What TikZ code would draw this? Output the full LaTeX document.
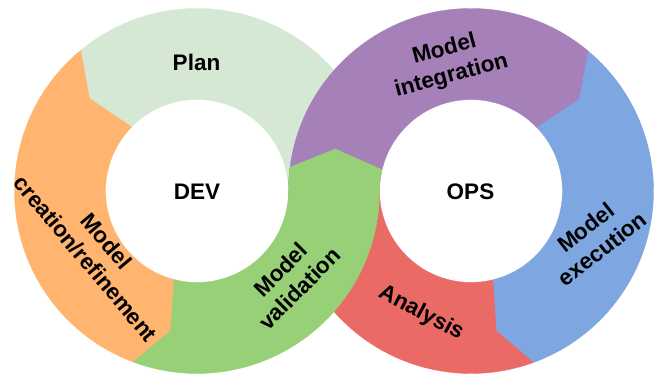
\documentclass[tikz,border=0pt]{standalone}
\usepackage{fontspec}
\setmainfont{Liberation Sans}
\usetikzlibrary{calc}
\definecolor{cplan}{HTML}{D5E8D4}
\definecolor{corange}{HTML}{FFB570}
\definecolor{cgreen}{HTML}{97D077}
\definecolor{cpurple}{HTML}{A680B8}
\definecolor{cblue}{HTML}{7EA6E0}
\definecolor{cred}{HTML}{EA6B66}
\begin{document}
\begin{tikzpicture}[x=1pt,y=1pt,
  seg/.style={fill=#1, draw=#1, line width=0.4pt, line join=round},
  lbl/.style={font=\fontsize{22.5}{27}\selectfont\bfseries, align=center, text=black, inner sep=0pt}]
\useasboundingbox (0,0) rectangle (657,374);
\coordinate (L) at (197,183);
\coordinate (R) at (471,183);
% Plan
\path[seg=cplan] ($(L)+(0:182.5pt)$) arc[start angle=0,end angle=129.6,radius=182.5pt]
  -- ($(L)+(139.3:142pt)$) -- ($(L)+(135.6:91.5pt)$)
  arc[start angle=135.6,end angle=0,radius=91.5pt] -- cycle;
% Analysis
\path[seg=cred] ($(R)+(-69.8:182.5pt)$) arc[start angle=-69.8,end angle=-180,radius=182.5pt]
  -- ($(R)+(180:91.5pt)$) arc[start angle=180,end angle=284.2,radius=91.5pt]
  -- ($(R)+(-79.5:142pt)$) -- cycle;
% Model creation/refinement
\path[seg=corange] ($(L)+(129.6:182.5pt)$) arc[start angle=129.6,end angle=249.6,radius=182.5pt]
  -- ($(L)+(259.3:142pt)$) -- ($(L)+(255.6:91.5pt)$)
  arc[start angle=255.6,end angle=135.6,radius=91.5pt]
  -- ($(L)+(139.3:142pt)$) -- cycle;
% Model execution
\path[seg=cblue] ($(R)+(50.2:182.5pt)$) arc[start angle=50.2,end angle=-69.8,radius=182.5pt]
  -- ($(R)+(-79.5:142pt)$) -- ($(R)+(-75.8:91.5pt)$)
  arc[start angle=-75.8,end angle=44.2,radius=91.5pt]
  -- ($(R)+(40.5:142pt)$) -- cycle;
% Model integration
\path[seg=cpurple] ($(R)+(178:182.5pt)$) arc[start angle=178,end angle=50.2,radius=182.5pt]
  -- ($(R)+(40.5:142pt)$) -- ($(R)+(44.2:91.5pt)$)
  arc[start angle=44.2,end angle=178,radius=91.5pt] -- cycle;
% Model validation
\path[seg=cgreen] ($(L)+(249.6:182.5pt)$) arc[start angle=249.6,end angle=360,radius=182.5pt]
  arc[start angle=180,end angle=166.5,radius=91.5pt]
  -- ($(R)+(162.8:142pt)$) -- ($(R)+(172.5:182.5pt)$)
  arc[start angle=172.5,end angle=180,radius=182.5pt]
  arc[start angle=0,end angle=-104.4,radius=91.5pt]
  -- ($(L)+(259.3:142pt)$) -- cycle;
% labels
\node[lbl] (plan) at (196.5,312) {Plan};
\node[lbl] (dev) at (197,182) {DEV};
\node[lbl] (ops) at (470.5,182) {OPS};
\node[lbl, rotate=15] (integ) at (448,311) {Model\\integration};
\node[lbl, rotate=-50] (creat) at (96,124) {Model\\creation/refinement};
\node[lbl, rotate=45] (valid) at (290,95) {Model\\validation};
\node[lbl, rotate=-28] (anal) at (421,61) {Analysis};
\node[lbl, rotate=38] (exec) at (594,136) {Model\\execution};
\end{tikzpicture}
\end{document}
